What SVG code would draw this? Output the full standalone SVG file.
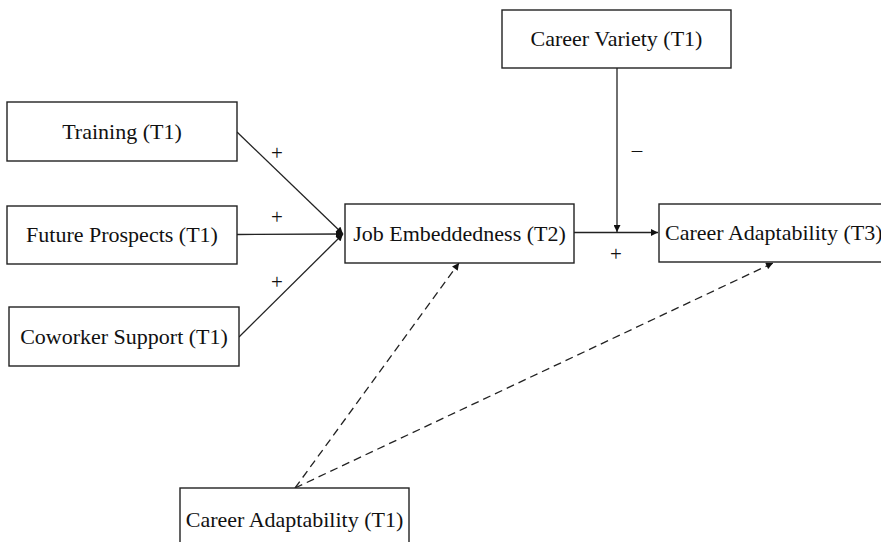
<svg xmlns="http://www.w3.org/2000/svg" width="881" height="542" viewBox="0 0 881 542">
<style>
.box{fill:#fff;stroke:#222;stroke-width:1.4}
.t{font-family:"Liberation Serif","Times New Roman",serif;font-size:22px;fill:#111;text-anchor:middle}
.s{font-family:"Liberation Serif","Times New Roman",serif;font-size:21px;fill:#111;text-anchor:middle}
.ln{stroke:#222;stroke-width:1.3;fill:none}
.d{stroke-dasharray:8 5}
</style>
<defs>
<marker id="ah" viewBox="0 0 10 10" refX="10" refY="5" markerWidth="8" markerHeight="7" markerUnits="userSpaceOnUse" orient="auto">
<path d="M0,0 L10,5 L0,10 z" fill="#111"/>
</marker>
</defs>
<rect width="881" height="542" fill="#fff"/>
<g id="connectors">
<line class="ln" x1="237" y1="132" x2="343" y2="234" marker-end="url(#ah)"/>
<line class="ln" x1="237" y1="234.5" x2="343" y2="234" marker-end="url(#ah)"/>
<line class="ln" x1="239" y1="337" x2="343" y2="234" marker-end="url(#ah)"/>
<line class="ln" x1="574" y1="232.5" x2="658" y2="232.5" marker-end="url(#ah)"/>
<line class="ln" x1="617" y1="68" x2="617" y2="232" marker-end="url(#ah)"/>
<line class="ln d" x1="295" y1="488" x2="459" y2="263" marker-end="url(#ah)"/>
<line class="ln d" x1="295" y1="488" x2="773" y2="263" marker-end="url(#ah)"/>
<text class="s" x="277" y="160">+</text>
<text class="s" x="277" y="224">+</text>
<text class="s" x="277" y="289">+</text>
<text class="s" x="637" y="157">–</text>
<text class="s" x="616" y="261">+</text>
</g>
<g id="training">
<rect class="box" x="7" y="102" width="230" height="59"/>
<text class="t" x="122" y="139">Training (T1)</text>
</g>
<g id="future-prospects">
<rect class="box" x="7" y="206" width="230" height="58"/>
<text class="t" x="122" y="242">Future Prospects (T1)</text>
</g>
<g id="coworker-support">
<rect class="box" x="9" y="307" width="230" height="59"/>
<text class="t" x="124" y="344">Coworker Support (T1)</text>
</g>
<g id="job-embeddedness">
<rect class="box" x="345" y="204" width="229" height="59"/>
<text class="t" x="459.5" y="241">Job Embeddedness (T2)</text>
</g>
<g id="career-variety">
<rect class="box" x="502" y="10" width="229" height="58"/>
<text class="t" x="616.5" y="46">Career Variety (T1)</text>
</g>
<g id="career-adaptability-t3">
<rect class="box" x="659" y="204" width="240" height="58"/>
<text class="t" x="665" y="240" style="text-anchor:start">Career Adaptability (T3)</text>
</g>
<g id="career-adaptability-t1">
<rect class="box" x="180" y="488" width="229" height="70"/>
<text class="t" x="294.5" y="527">Career Adaptability (T1)</text>
</g>
</svg>
